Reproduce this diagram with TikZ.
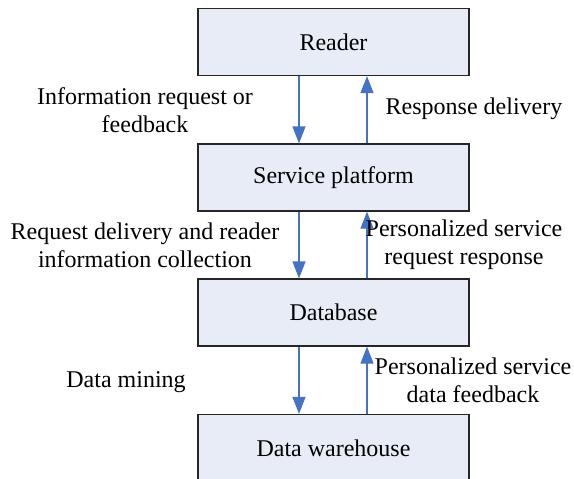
\documentclass[tikz,border=0pt]{standalone}
\usepackage{fontspec}
\setmainfont{Liberation Serif}
\newfontfamily\tnr{Liberation Serif}
\usetikzlibrary{arrows.meta}
\definecolor{boxfill}{HTML}{E7ECF7}
\definecolor{arrblue}{HTML}{4472C4}
\tikzset{
  box/.style={draw=black!85, line width=1.2pt, fill=boxfill, minimum width=271pt, minimum height=67pt, inner sep=0pt, font=\tnr\fontsize{24}{28}\selectfont},
  lbl/.style={align=center, inner sep=0pt, font=\tnr\fontsize{24}{28}\selectfont},
  arr/.style={draw=arrblue, line width=1.2pt, -{Triangle[width=13pt,length=17pt]}}
}
\begin{document}
\begin{tikzpicture}[x=1pt,y=-1pt]
\useasboundingbox (0,0) rectangle (574,479);
\node[box] (reader) at (333.5,42) {Reader};
\node[box] (service) at (333.5,177.5) {Service platform};
\node[box] (db) at (333.5,312.5) {Database};
\node[box] (dw) at (333.5,448) {Data warehouse};
\coordinate (dn) at (299,0);
\coordinate (up) at (367,0);
\draw[arr] (reader.south -| dn) -- (service.north -| dn);
\draw[arr] (service.north -| up) -- (reader.south -| up);
\draw[arr] (service.south -| dn) -- (db.north -| dn);
\draw[arr] (db.north -| up) -- (service.south -| up);
\draw[arr] (db.south -| dn) -- (dw.north -| dn);
\draw[arr] (dw.north -| up) -- (db.south -| up);
\node[lbl] (l1) at (145,110) {Information request or\\feedback};
\node[lbl] (l2) at (474,109) {Response delivery};
\node[lbl] (l3) at (145,245) {Request delivery and reader\\information collection};
\node[lbl] (l4) at (464,245) {Personalized service\\request response};
\node[lbl] (l5) at (126,382) {Data mining};
\node[lbl] (l6) at (473,380) {Personalized service\\data feedback};
\end{tikzpicture}
\end{document}
